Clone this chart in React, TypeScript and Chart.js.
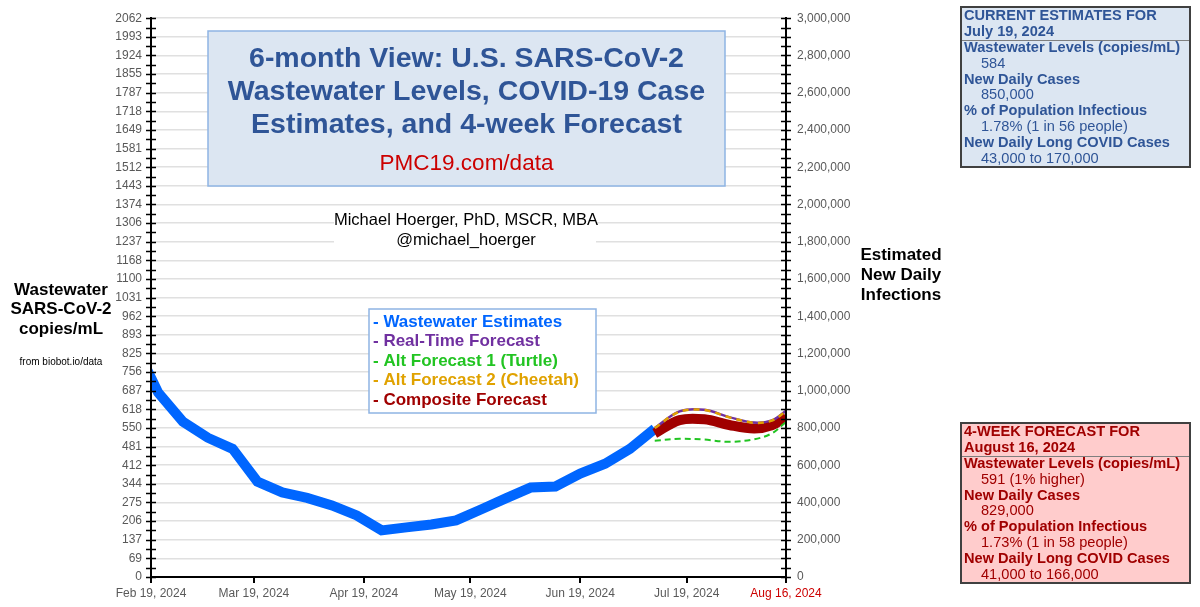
import React, { useEffect, useRef } from "react";
import { Chart, registerables } from "chart.js";

Chart.register(...registerables);

const FONT = '"Liberation Sans", Arial, Helvetica, sans-serif';
const DAY_MS = 86400000;
const START_DATE = "2024-02-19";
const END_DATE = "2024-08-16";

// Bottom axis: dates shown under the plot
const X_TICK_DATES = ["2024-02-19", "2024-03-19", "2024-04-19", "2024-05-19", "2024-06-19", "2024-07-19", "2024-08-16"];
const X_TICK_LABELS = ["Feb 19, 2024", "Mar 19, 2024", "Apr 19, 2024", "May 19, 2024", "Jun 19, 2024", "Jul 19, 2024", "Aug 16, 2024"];

// Left axis: wastewater copies/mL
const LEFT_MAX = 2062;
const LEFT_TICK_LABELS = [
  "0", "69", "137", "206", "275", "344", "412", "481", "550", "618", "687",
  "756", "825", "893", "962", "1031", "1100", "1168", "1237", "1306", "1374",
  "1443", "1512", "1581", "1649", "1718", "1787", "1855", "1924", "1993", "2062",
];

// Right axis: estimated new daily infections
const RIGHT_MAX = 3000000;
const RIGHT_TICK_VALUES = [
  0, 200000, 400000, 600000, 800000, 1000000, 1200000, 1400000,
  1600000, 1800000, 2000000, 2200000, 2400000, 2600000, 2800000, 3000000,
];

// Weekly national wastewater levels (copies/mL)
const WASTEWATER_DATES = [
  "2024-02-14", "2024-02-21", "2024-02-28", "2024-03-06", "2024-03-13", "2024-03-20",
  "2024-03-27", "2024-04-03", "2024-04-10", "2024-04-17", "2024-04-24", "2024-05-01",
  "2024-05-08", "2024-05-15", "2024-05-22", "2024-05-29", "2024-06-05", "2024-06-12",
  "2024-06-19", "2024-06-26", "2024-07-03", "2024-07-10",
];
const WASTEWATER_VALUES = [
  870, 681, 573, 514, 473, 352,
  312, 292, 264, 227, 172, 183,
  194, 209, 249, 290, 330, 334,
  382, 418, 473, 547,
];

// 4-week forecasts (copies/mL)
const FORECAST_DATES = ["2024-07-10", "2024-07-17", "2024-07-24", "2024-07-31", "2024-08-07", "2024-08-12", "2024-08-16"];
const REAL_TIME_FORECAST = [550, 611, 617, 590, 570, 578, 613];
const TURTLE_FORECAST = [503, 510, 507, 499, 508, 530, 572];
const CHEETAH_FORECAST = [550, 610, 616, 589, 569, 577, 612];
const COMPOSITE_FORECAST = [530, 579, 582, 561, 548, 560, 591];

// Side panels
const CURRENT_HEADER = ["CURRENT ESTIMATES FOR", "July 19, 2024"];
const CURRENT_ROWS = [
  ["Wastewater Levels (copies/mL)", "584"],
  ["New Daily Cases", "850,000"],
  ["% of Population Infectious", "1.78% (1 in 56 people)"],
  ["New Daily Long COVID Cases", "43,000 to 170,000"],
];
const FORECAST_HEADER = ["4-WEEK FORECAST FOR", "August 16, 2024"];
const FORECAST_ROWS = [
  ["Wastewater Levels (copies/mL)", "591 (1% higher)"],
  ["New Daily Cases", "829,000"],
  ["% of Population Infectious", "1.73% (1 in 58 people)"],
  ["New Daily Long COVID Cases", "41,000 to 166,000"],
];

const TITLE_LINES = ["6-month View: U.S. SARS-CoV-2", "Wastewater Levels, COVID-19 Case", "Estimates, and 4-week Forecast"];
const TITLE_LINK = "PMC19.com/data";
const AUTHOR_LINES = ["Michael Hoerger, PhD, MSCR, MBA", "@michael_hoerger"];
const LEFT_TITLE = ["Wastewater", "SARS-CoV-2", "copies/mL"];
const LEFT_SOURCE = "from biobot.io/data";
const RIGHT_TITLE = ["Estimated", "New Daily", "Infections"];

const SERIES_COLORS = {
  wastewater: "#0066ff",
  realTime: "#7030a0",
  turtle: "#22c422",
  cheetah: "#e0a200",
  composite: "#a00000",
};
const LEGEND_ITEMS = [
  ["- Wastewater Estimates", SERIES_COLORS.wastewater],
  ["- Real-Time Forecast", SERIES_COLORS.realTime],
  ["- Alt Forecast 1 (Turtle)", SERIES_COLORS.turtle],
  ["- Alt Forecast 2 (Cheetah)", SERIES_COLORS.cheetah],
  ["- Composite Forecast", SERIES_COLORS.composite],
];

const dayOf = (d: string) => (Date.parse(d) - Date.parse(START_DATE)) / DAY_MS;
const toPoints = (dates: string[], values: number[]) => dates.map((d, i) => ({ x: dayOf(d), y: values[i] }));

const TICK_GRAY = "#595959";
const GRID_GRAY = "#e0e0e0";

function drawText(
  ctx: CanvasRenderingContext2D,
  text: string,
  x: number,
  y: number,
  size: number,
  color: string,
  bold = false,
  align: CanvasTextAlign = "center"
) {
  ctx.font = `${bold ? "bold " : ""}${size}px ${FONT}`;
  ctx.fillStyle = color;
  ctx.textAlign = align;
  ctx.textBaseline = "middle";
  ctx.fillText(text, x, y);
}

function drawPanel(
  ctx: CanvasRenderingContext2D,
  x: number,
  y: number,
  w: number,
  h: number,
  fill: string,
  color: string,
  header: string[],
  rows: string[][]
) {
  const size = 14.6;
  ctx.fillStyle = fill;
  ctx.fillRect(x, y, w, h);
  drawText(ctx, header[0], x + 3, y + 8.5, size, color, true, "left");
  drawText(ctx, header[1], x + 3, y + 25, size, color, true, "left");
  ctx.strokeStyle = "#7f7f7f";
  ctx.lineWidth = 1;
  ctx.beginPath();
  ctx.moveTo(x, y + 33.5);
  ctx.lineTo(x + w, y + 33.5);
  ctx.stroke();
  rows.forEach((row, i) => {
    const ry = y + 41 + i * 31.6;
    drawText(ctx, row[0], x + 3, ry, size, color, true, "left");
    drawText(ctx, row[1], x + 20, ry + 15.8, size, color, false, "left");
  });
  ctx.strokeStyle = "#404040";
  ctx.lineWidth = 2;
  ctx.strokeRect(x, y, w, h);
}

const overlayPlugin = {
  id: "wastewaterOverlay",
  afterDraw(chart: any) {
    const ctx: CanvasRenderingContext2D = chart.ctx;
    const yL = chart.scales.y;
    const yR = chart.scales.y2;
    const { left, right } = chart.chartArea;
    ctx.save();

    // crossing tick marks on both vertical axes
    ctx.strokeStyle = "#000";
    ctx.lineWidth = 1.5;
    ctx.beginPath();
    for (let i = 0; i <= 60; i++) {
      const py = Math.round(yL.getPixelForValue((i * LEFT_MAX) / 60)) + 0.5;
      ctx.moveTo(left - 5, py);
      ctx.lineTo(left + 5, py);
      const pr = Math.round(yR.getPixelForValue((i * RIGHT_MAX) / 60)) + 0.5;
      ctx.moveTo(right - 5, pr);
      ctx.lineTo(right + 5, pr);
    }
    ctx.stroke();

    // title box
    ctx.fillStyle = "#dce6f2";
    ctx.fillRect(208, 31, 517, 155);
    ctx.strokeStyle = "#8eb4e3";
    ctx.lineWidth = 1.5;
    ctx.strokeRect(208, 31, 517, 155);
    TITLE_LINES.forEach((t, i) => drawText(ctx, t, 466.5, 59.5 + i * 33, 28.5, "#2f5597", true));
    drawText(ctx, TITLE_LINK, 466.5, 163.5, 22.5, "#cc0000");

    // author
    ctx.fillStyle = "#ffffff";
    ctx.fillRect(334, 208, 262, 45);
    AUTHOR_LINES.forEach((t, i) => drawText(ctx, t, 466, 220 + i * 20.5, 16.5, "#000"));

    // legend
    ctx.fillStyle = "#ffffff";
    ctx.fillRect(369, 309, 227, 104);
    ctx.strokeStyle = "#8eb4e3";
    ctx.lineWidth = 1.5;
    ctx.strokeRect(369, 309, 227, 104);
    LEGEND_ITEMS.forEach(([t, c], i) => drawText(ctx, t, 373, 322 + i * 19.5, 17, c, true, "left"));

    // axis titles
    LEFT_TITLE.forEach((t, i) => drawText(ctx, t, 61, 290 + i * 19.5, 17, "#000", true));
    drawText(ctx, LEFT_SOURCE, 61, 362, 10, "#000");
    RIGHT_TITLE.forEach((t, i) => drawText(ctx, t, 901, 255 + i * 20, 17, "#000", true));

    // side panels
    drawPanel(ctx, 961, 7, 229, 160, "#dce6f2", "#2f5597", CURRENT_HEADER, CURRENT_ROWS);
    drawPanel(ctx, 961, 423, 229, 160, "#ffcccc", "#a00000", FORECAST_HEADER, FORECAST_ROWS);

    ctx.restore();
  },
};

export default function App() {
  const canvasRef = useRef<HTMLCanvasElement | null>(null);

  useEffect(() => {
    if (!canvasRef.current) return;
    const lastX = X_TICK_LABELS.length - 1;
    const chart = new Chart(canvasRef.current, {
      type: "line",
      data: {
        datasets: [
          {
            label: "Alt Forecast 2 (Cheetah)",
            data: toPoints(FORECAST_DATES, CHEETAH_FORECAST),
            borderColor: SERIES_COLORS.cheetah,
            borderWidth: 2.5,
            borderDash: [6, 5],
            pointRadius: 0,
            tension: 0.35,
            order: 0,
          },
          {
            label: "Real-Time Forecast",
            data: toPoints(FORECAST_DATES, REAL_TIME_FORECAST),
            borderColor: SERIES_COLORS.realTime,
            borderWidth: 2.5,
            pointRadius: 0,
            tension: 0.35,
            order: 1,
          },
          {
            label: "Alt Forecast 1 (Turtle)",
            data: toPoints(FORECAST_DATES, TURTLE_FORECAST),
            borderColor: SERIES_COLORS.turtle,
            borderWidth: 2,
            borderDash: [6, 4],
            pointRadius: 0,
            tension: 0.35,
            order: 2,
          },
          {
            label: "Composite Forecast",
            data: toPoints(FORECAST_DATES, COMPOSITE_FORECAST),
            borderColor: SERIES_COLORS.composite,
            borderWidth: 10,
            pointRadius: 0,
            tension: 0.35,
            order: 3,
          },
          {
            label: "Wastewater Estimates",
            data: toPoints(WASTEWATER_DATES, WASTEWATER_VALUES),
            borderColor: SERIES_COLORS.wastewater,
            borderWidth: 10,
            pointRadius: 0,
            tension: 0,
            order: 4,
          },
        ],
      },
      options: {
        animation: false,
        responsive: false,
        events: [],
        layout: { padding: { top: 15, left: 0, right: 0, bottom: 0 } },
        plugins: { legend: { display: false }, tooltip: { enabled: false } },
        scales: {
          x: {
            type: "linear",
            min: 0,
            max: dayOf(END_DATE),
            afterBuildTicks: (s: any) => {
              s.ticks = X_TICK_DATES.map((d) => ({ value: dayOf(d) }));
            },
            afterFit: (s: any) => {
              s.height = 30;
            },
            ticks: {
              autoSkip: false,
              maxRotation: 0,
              padding: 3,
              font: { family: FONT, size: 12 },
              color: (c: any) => (c.index === lastX ? "#cc0000" : TICK_GRAY),
              callback: (_v: any, i: number) => X_TICK_LABELS[i],
            },
            grid: { drawOnChartArea: false, drawTicks: true, tickLength: 6, color: "#000", lineWidth: 2 },
            border: { display: true, color: "#000", width: 2, z: 1 },
          },
          y: {
            position: "left",
            min: 0,
            max: LEFT_MAX,
            afterBuildTicks: (s: any) => {
              s.ticks = LEFT_TICK_LABELS.map((_, i) => ({ value: (i * LEFT_MAX) / (LEFT_TICK_LABELS.length - 1) }));
            },
            afterFit: (s: any) => {
              s.width = 151;
            },
            ticks: {
              padding: 9,
              font: { family: FONT, size: 12 },
              color: TICK_GRAY,
              callback: (_v: any, i: number) => LEFT_TICK_LABELS[i],
            },
            grid: { color: GRID_GRAY, lineWidth: 1.5, drawTicks: false },
            border: { display: true, color: "#000", width: 2, z: 1 },
          },
          y2: {
            position: "right",
            min: 0,
            max: RIGHT_MAX,
            afterBuildTicks: (s: any) => {
              s.ticks = RIGHT_TICK_VALUES.map((v) => ({ value: v }));
            },
            afterFit: (s: any) => {
              s.width = 414;
            },
            ticks: {
              padding: 11,
              font: { family: FONT, size: 12 },
              color: TICK_GRAY,
              callback: (v: any) => Number(v).toLocaleString("en-US"),
            },
            grid: { drawOnChartArea: false, drawTicks: false },
            border: { display: true, color: "#000", width: 2, z: 1 },
          },
        },
      },
      plugins: [overlayPlugin],
    } as any);
    return () => chart.destroy();
  }, []);

  return (
    <div style={{ position: "absolute", left: 0, top: 0, width: 1200, height: 607, background: "#fff" }}>
      <canvas ref={canvasRef} width={1200} height={607} style={{ display: "block", width: 1200, height: 607 }} />
    </div>
  );
}
